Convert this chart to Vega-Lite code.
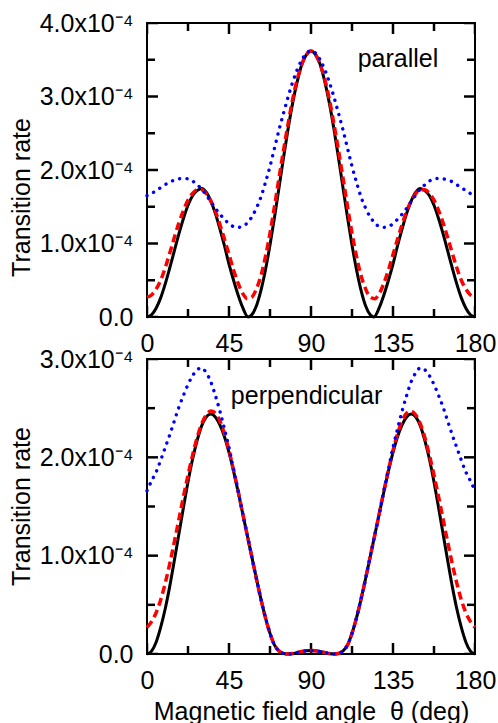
{
  "$schema": "https://vega.github.io/schema/vega-lite/v6.json",
  "padding": {"left": 8, "top": 10, "right": 0, "bottom": 0},
  "background": "white",
  "bounds": "flush",
  "spacing": 42,
  "config": {
    "view": {"stroke": "black", "strokeWidth": 2},
    "font": "Liberation Sans",
    "axis": {
      "grid": false, "domain": false, "ticks": false,
      "labelFont": "Liberation Sans", "labelFontSize": 25, "labelColor": "black",
      "titleFont": "Liberation Sans", "titleFontSize": 25, "titleFontWeight": "normal", "titleColor": "black",
      "labelFlush": false, "labelOverlap": false
    }
  },
  "datasets": {
    "par_k": [
      {"theta":0,"rate":0},{"theta":2.5,"rate":0.03},{"theta":5,"rate":0.12},{"theta":7.5,"rate":0.26},{"theta":10,"rate":0.45},{"theta":12.5,"rate":0.67},{"theta":15,"rate":0.90},{"theta":17.5,"rate":1.13},{"theta":20,"rate":1.34},{"theta":22.5,"rate":1.52},{"theta":25,"rate":1.65},{"theta":27.5,"rate":1.72},{"theta":30,"rate":1.75},{"theta":32.5,"rate":1.70},{"theta":35,"rate":1.58},{"theta":37.5,"rate":1.41},{"theta":40,"rate":1.20},{"theta":42.5,"rate":0.97},{"theta":45,"rate":0.72},{"theta":47.5,"rate":0.50},{"theta":50,"rate":0.30},{"theta":52.5,"rate":0.13},{"theta":55.5,"rate":0},{"theta":57.5,"rate":0.03},{"theta":60,"rate":0.15},{"theta":62.5,"rate":0.36},{"theta":65,"rate":0.64},{"theta":67.5,"rate":0.98},{"theta":70,"rate":1.36},{"theta":72.5,"rate":1.77},{"theta":75,"rate":2.18},{"theta":77.5,"rate":2.57},{"theta":80,"rate":2.92},{"theta":82.5,"rate":3.21},{"theta":85,"rate":3.44},{"theta":87.5,"rate":3.57},{"theta":90,"rate":3.62},
      {"theta":92.5,"rate":3.57},{"theta":95,"rate":3.44},{"theta":97.5,"rate":3.21},{"theta":100,"rate":2.92},{"theta":102.5,"rate":2.57},{"theta":105,"rate":2.18},{"theta":107.5,"rate":1.77},{"theta":110,"rate":1.36},{"theta":112.5,"rate":0.98},{"theta":115,"rate":0.64},{"theta":117.5,"rate":0.36},{"theta":120,"rate":0.15},{"theta":122.5,"rate":0.03},{"theta":124.5,"rate":0},{"theta":127.5,"rate":0.13},{"theta":130,"rate":0.30},{"theta":132.5,"rate":0.50},{"theta":135,"rate":0.72},{"theta":137.5,"rate":0.97},{"theta":140,"rate":1.20},{"theta":142.5,"rate":1.41},{"theta":145,"rate":1.58},{"theta":147.5,"rate":1.70},{"theta":150,"rate":1.75},{"theta":152.5,"rate":1.72},{"theta":155,"rate":1.65},{"theta":157.5,"rate":1.52},{"theta":160,"rate":1.34},{"theta":162.5,"rate":1.13},{"theta":165,"rate":0.90},{"theta":167.5,"rate":0.67},{"theta":170,"rate":0.45},{"theta":172.5,"rate":0.26},{"theta":175,"rate":0.12},{"theta":177.5,"rate":0.03},{"theta":180,"rate":0}
    ],
    "par_r": [
      {"theta":0,"rate":0.27},{"theta":2.5,"rate":0.30},{"theta":5,"rate":0.38},{"theta":7.5,"rate":0.50},{"theta":10,"rate":0.67},{"theta":12.5,"rate":0.87},{"theta":15,"rate":1.08},{"theta":17.5,"rate":1.28},{"theta":20,"rate":1.45},{"theta":22.5,"rate":1.59},{"theta":25,"rate":1.68},{"theta":27.5,"rate":1.73},{"theta":30,"rate":1.73},{"theta":32.5,"rate":1.68},{"theta":35,"rate":1.58},{"theta":37.5,"rate":1.44},{"theta":40,"rate":1.26},{"theta":42.5,"rate":1.06},{"theta":45,"rate":0.85},{"theta":47.5,"rate":0.64},{"theta":50,"rate":0.46},{"theta":52.5,"rate":0.32},{"theta":55,"rate":0.25},{"theta":57.5,"rate":0.27},{"theta":60,"rate":0.38},{"theta":62.5,"rate":0.56},{"theta":65,"rate":0.82},{"theta":67.5,"rate":1.14},{"theta":70,"rate":1.51},{"theta":72.5,"rate":1.90},{"theta":75,"rate":2.28},{"theta":77.5,"rate":2.64},{"theta":80,"rate":2.97},{"theta":82.5,"rate":3.24},{"theta":85,"rate":3.44},{"theta":87.5,"rate":3.57},{"theta":90,"rate":3.62},
      {"theta":92.5,"rate":3.57},{"theta":95,"rate":3.44},{"theta":97.5,"rate":3.24},{"theta":100,"rate":2.97},{"theta":102.5,"rate":2.64},{"theta":105,"rate":2.28},{"theta":107.5,"rate":1.90},{"theta":110,"rate":1.51},{"theta":112.5,"rate":1.14},{"theta":115,"rate":0.82},{"theta":117.5,"rate":0.56},{"theta":120,"rate":0.38},{"theta":122.5,"rate":0.27},{"theta":125,"rate":0.25},{"theta":127.5,"rate":0.32},{"theta":130,"rate":0.46},{"theta":132.5,"rate":0.64},{"theta":135,"rate":0.85},{"theta":137.5,"rate":1.06},{"theta":140,"rate":1.26},{"theta":142.5,"rate":1.44},{"theta":145,"rate":1.58},{"theta":147.5,"rate":1.68},{"theta":150,"rate":1.73},{"theta":152.5,"rate":1.73},{"theta":155,"rate":1.68},{"theta":157.5,"rate":1.59},{"theta":160,"rate":1.45},{"theta":162.5,"rate":1.28},{"theta":165,"rate":1.08},{"theta":167.5,"rate":0.87},{"theta":170,"rate":0.67},{"theta":172.5,"rate":0.50},{"theta":175,"rate":0.38},{"theta":177.5,"rate":0.30},{"theta":180,"rate":0.27}
    ],
    "par_b": [
      {"theta":0,"rate":1.65},{"theta":2.5,"rate":1.68},{"theta":5,"rate":1.72},{"theta":7.5,"rate":1.76},{"theta":10,"rate":1.80},{"theta":12.5,"rate":1.84},{"theta":15,"rate":1.86},{"theta":17.5,"rate":1.88},{"theta":20,"rate":1.885},{"theta":22.5,"rate":1.88},{"theta":25,"rate":1.85},{"theta":27.5,"rate":1.80},{"theta":30,"rate":1.74},{"theta":32.5,"rate":1.66},{"theta":35,"rate":1.57},{"theta":37.5,"rate":1.48},{"theta":40,"rate":1.40},{"theta":42.5,"rate":1.33},{"theta":45,"rate":1.27},{"theta":47.5,"rate":1.23},{"theta":50,"rate":1.22},{"theta":52.5,"rate":1.23},{"theta":55,"rate":1.28},{"theta":57.5,"rate":1.36},{"theta":60,"rate":1.48},{"theta":62.5,"rate":1.63},{"theta":65,"rate":1.83},{"theta":67.5,"rate":2.05},{"theta":70,"rate":2.30},{"theta":72.5,"rate":2.55},{"theta":75,"rate":2.78},{"theta":77.5,"rate":3.00},{"theta":80,"rate":3.20},{"theta":82.5,"rate":3.37},{"theta":85,"rate":3.50},{"theta":87.5,"rate":3.59},{"theta":90,"rate":3.62},
      {"theta":92.5,"rate":3.59},{"theta":95,"rate":3.50},{"theta":97.5,"rate":3.37},{"theta":100,"rate":3.20},{"theta":102.5,"rate":3.00},{"theta":105,"rate":2.78},{"theta":107.5,"rate":2.55},{"theta":110,"rate":2.30},{"theta":112.5,"rate":2.05},{"theta":115,"rate":1.83},{"theta":117.5,"rate":1.63},{"theta":120,"rate":1.48},{"theta":122.5,"rate":1.36},{"theta":125,"rate":1.28},{"theta":127.5,"rate":1.23},{"theta":130,"rate":1.22},{"theta":132.5,"rate":1.23},{"theta":135,"rate":1.27},{"theta":137.5,"rate":1.33},{"theta":140,"rate":1.40},{"theta":142.5,"rate":1.48},{"theta":145,"rate":1.57},{"theta":147.5,"rate":1.66},{"theta":150,"rate":1.74},{"theta":152.5,"rate":1.80},{"theta":155,"rate":1.85},{"theta":157.5,"rate":1.88},{"theta":160,"rate":1.885},{"theta":162.5,"rate":1.88},{"theta":165,"rate":1.86},{"theta":167.5,"rate":1.84},{"theta":170,"rate":1.80},{"theta":172.5,"rate":1.76},{"theta":175,"rate":1.72},{"theta":177.5,"rate":1.68},{"theta":180,"rate":1.65}
    ],
    "perp_k": [
      {"theta":0,"rate":0},{"theta":2.5,"rate":0.03},{"theta":5,"rate":0.12},{"theta":7.5,"rate":0.27},{"theta":10,"rate":0.46},{"theta":12.5,"rate":0.69},{"theta":15,"rate":0.95},{"theta":17.5,"rate":1.22},{"theta":20,"rate":1.49},{"theta":22.5,"rate":1.75},{"theta":25,"rate":1.98},{"theta":27.5,"rate":2.17},{"theta":30,"rate":2.32},{"theta":32.5,"rate":2.41},{"theta":35,"rate":2.44},{"theta":37.5,"rate":2.41},{"theta":40,"rate":2.33},{"theta":42.5,"rate":2.21},{"theta":45,"rate":2.05},{"theta":47.5,"rate":1.86},{"theta":50,"rate":1.65},{"theta":52.5,"rate":1.43},{"theta":55,"rate":1.21},{"theta":57.5,"rate":0.99},{"theta":60,"rate":0.77},{"theta":62.5,"rate":0.56},{"theta":65,"rate":0.37},{"theta":67.5,"rate":0.21},{"theta":70,"rate":0.09},{"theta":72.5,"rate":0.03},{"theta":75,"rate":0.005},{"theta":77.5,"rate":0},{"theta":80,"rate":0.005},{"theta":82.5,"rate":0.015},{"theta":85,"rate":0.025},{"theta":87.5,"rate":0.032},{"theta":90,"rate":0.035},
      {"theta":92.5,"rate":0.032},{"theta":95,"rate":0.025},{"theta":97.5,"rate":0.015},{"theta":100,"rate":0.005},{"theta":102.5,"rate":0},{"theta":105,"rate":0.005},{"theta":107.5,"rate":0.03},{"theta":110,"rate":0.09},{"theta":112.5,"rate":0.21},{"theta":115,"rate":0.37},{"theta":117.5,"rate":0.56},{"theta":120,"rate":0.77},{"theta":122.5,"rate":0.99},{"theta":125,"rate":1.21},{"theta":127.5,"rate":1.43},{"theta":130,"rate":1.65},{"theta":132.5,"rate":1.86},{"theta":135,"rate":2.05},{"theta":137.5,"rate":2.21},{"theta":140,"rate":2.33},{"theta":142.5,"rate":2.41},{"theta":145,"rate":2.44},{"theta":147.5,"rate":2.41},{"theta":150,"rate":2.32},{"theta":152.5,"rate":2.17},{"theta":155,"rate":1.98},{"theta":157.5,"rate":1.75},{"theta":160,"rate":1.49},{"theta":162.5,"rate":1.22},{"theta":165,"rate":0.95},{"theta":167.5,"rate":0.69},{"theta":170,"rate":0.46},{"theta":172.5,"rate":0.27},{"theta":175,"rate":0.12},{"theta":177.5,"rate":0.03},{"theta":180,"rate":0}
    ],
    "perp_r": [
      {"theta":0,"rate":0.27},{"theta":2.5,"rate":0.33},{"theta":5,"rate":0.42},{"theta":7.5,"rate":0.55},{"theta":10,"rate":0.72},{"theta":12.5,"rate":0.92},{"theta":15,"rate":1.14},{"theta":17.5,"rate":1.37},{"theta":20,"rate":1.60},{"theta":22.5,"rate":1.82},{"theta":25,"rate":2.02},{"theta":27.5,"rate":2.20},{"theta":30,"rate":2.34},{"theta":32.5,"rate":2.43},{"theta":35,"rate":2.47},{"theta":37.5,"rate":2.45},{"theta":40,"rate":2.37},{"theta":42.5,"rate":2.24},{"theta":45,"rate":2.07},{"theta":47.5,"rate":1.87},{"theta":50,"rate":1.66},{"theta":52.5,"rate":1.43},{"theta":55,"rate":1.21},{"theta":57.5,"rate":0.99},{"theta":60,"rate":0.77},{"theta":62.5,"rate":0.56},{"theta":65,"rate":0.37},{"theta":67.5,"rate":0.21},{"theta":70,"rate":0.09},{"theta":72.5,"rate":0.03},{"theta":75,"rate":0.005},{"theta":77.5,"rate":0},{"theta":80,"rate":0.005},{"theta":82.5,"rate":0.015},{"theta":85,"rate":0.025},{"theta":87.5,"rate":0.032},{"theta":90,"rate":0.035},
      {"theta":92.5,"rate":0.032},{"theta":95,"rate":0.025},{"theta":97.5,"rate":0.015},{"theta":100,"rate":0.005},{"theta":102.5,"rate":0},{"theta":105,"rate":0.005},{"theta":107.5,"rate":0.03},{"theta":110,"rate":0.09},{"theta":112.5,"rate":0.21},{"theta":115,"rate":0.37},{"theta":117.5,"rate":0.56},{"theta":120,"rate":0.77},{"theta":122.5,"rate":0.99},{"theta":125,"rate":1.21},{"theta":127.5,"rate":1.43},{"theta":130,"rate":1.66},{"theta":132.5,"rate":1.87},{"theta":135,"rate":2.07},{"theta":137.5,"rate":2.24},{"theta":140,"rate":2.37},{"theta":142.5,"rate":2.45},{"theta":145,"rate":2.47},{"theta":147.5,"rate":2.43},{"theta":150,"rate":2.34},{"theta":152.5,"rate":2.20},{"theta":155,"rate":2.02},{"theta":157.5,"rate":1.82},{"theta":160,"rate":1.60},{"theta":162.5,"rate":1.37},{"theta":165,"rate":1.14},{"theta":167.5,"rate":0.92},{"theta":170,"rate":0.72},{"theta":172.5,"rate":0.55},{"theta":175,"rate":0.42},{"theta":177.5,"rate":0.33},{"theta":180,"rate":0.27}
    ],
    "perp_b": [
      {"theta":0,"rate":1.66},{"theta":2.5,"rate":1.76},{"theta":5,"rate":1.85},{"theta":7.5,"rate":1.97},{"theta":10,"rate":2.10},{"theta":12.5,"rate":2.23},{"theta":15,"rate":2.37},{"theta":17.5,"rate":2.51},{"theta":20,"rate":2.63},{"theta":22.5,"rate":2.74},{"theta":25,"rate":2.83},{"theta":27.5,"rate":2.89},{"theta":30,"rate":2.91},{"theta":32.5,"rate":2.86},{"theta":35,"rate":2.77},{"theta":37.5,"rate":2.63},{"theta":40,"rate":2.47},{"theta":42.5,"rate":2.29},{"theta":45,"rate":2.10},{"theta":47.5,"rate":1.88},{"theta":50,"rate":1.66},{"theta":52.5,"rate":1.43},{"theta":55,"rate":1.21},{"theta":57.5,"rate":0.99},{"theta":60,"rate":0.77},{"theta":62.5,"rate":0.56},{"theta":65,"rate":0.37},{"theta":67.5,"rate":0.21},{"theta":70,"rate":0.09},{"theta":72.5,"rate":0.03},{"theta":75,"rate":0.005},{"theta":77.5,"rate":0},{"theta":80,"rate":0.005},{"theta":82.5,"rate":0.015},{"theta":85,"rate":0.025},{"theta":87.5,"rate":0.032},{"theta":90,"rate":0.035},
      {"theta":92.5,"rate":0.032},{"theta":95,"rate":0.025},{"theta":97.5,"rate":0.015},{"theta":100,"rate":0.005},{"theta":102.5,"rate":0},{"theta":105,"rate":0.005},{"theta":107.5,"rate":0.03},{"theta":110,"rate":0.09},{"theta":112.5,"rate":0.21},{"theta":115,"rate":0.37},{"theta":117.5,"rate":0.56},{"theta":120,"rate":0.77},{"theta":122.5,"rate":0.99},{"theta":125,"rate":1.21},{"theta":127.5,"rate":1.43},{"theta":130,"rate":1.66},{"theta":132.5,"rate":1.88},{"theta":135,"rate":2.10},{"theta":137.5,"rate":2.29},{"theta":140,"rate":2.47},{"theta":142.5,"rate":2.63},{"theta":145,"rate":2.77},{"theta":147.5,"rate":2.86},{"theta":150,"rate":2.91},{"theta":152.5,"rate":2.89},{"theta":155,"rate":2.83},{"theta":157.5,"rate":2.74},{"theta":160,"rate":2.63},{"theta":162.5,"rate":2.51},{"theta":165,"rate":2.37},{"theta":167.5,"rate":2.23},{"theta":170,"rate":2.10},{"theta":172.5,"rate":1.97},{"theta":175,"rate":1.85},{"theta":177.5,"rate":1.76},{"theta":180,"rate":1.66}
    ],
    "par_xmaj": [
      {"theta":0,"rate":0},{"theta":45,"rate":0},{"theta":90,"rate":0},{"theta":135,"rate":0},{"theta":180,"rate":0},
      {"theta":0,"rate":4},{"theta":45,"rate":4},{"theta":90,"rate":4},{"theta":135,"rate":4},{"theta":180,"rate":4}
    ],
    "par_xmin": [
      {"theta":22.5,"rate":0},{"theta":67.5,"rate":0},{"theta":112.5,"rate":0},{"theta":157.5,"rate":0},
      {"theta":22.5,"rate":4},{"theta":67.5,"rate":4},{"theta":112.5,"rate":4},{"theta":157.5,"rate":4}
    ],
    "par_ymaj": [
      {"theta":0,"rate":0},{"theta":0,"rate":1},{"theta":0,"rate":2},{"theta":0,"rate":3},{"theta":0,"rate":4},
      {"theta":180,"rate":0},{"theta":180,"rate":1},{"theta":180,"rate":2},{"theta":180,"rate":3},{"theta":180,"rate":4}
    ],
    "par_ymin": [
      {"theta":0,"rate":0.5},{"theta":0,"rate":1.5},{"theta":0,"rate":2.5},{"theta":0,"rate":3.5},
      {"theta":180,"rate":0.5},{"theta":180,"rate":1.5},{"theta":180,"rate":2.5},{"theta":180,"rate":3.5}
    ],
    "perp_xmaj": [
      {"theta":0,"rate":0},{"theta":45,"rate":0},{"theta":90,"rate":0},{"theta":135,"rate":0},{"theta":180,"rate":0},
      {"theta":0,"rate":3},{"theta":45,"rate":3},{"theta":90,"rate":3},{"theta":135,"rate":3},{"theta":180,"rate":3}
    ],
    "perp_xmin": [
      {"theta":22.5,"rate":0},{"theta":67.5,"rate":0},{"theta":112.5,"rate":0},{"theta":157.5,"rate":0},
      {"theta":22.5,"rate":3},{"theta":67.5,"rate":3},{"theta":112.5,"rate":3},{"theta":157.5,"rate":3}
    ],
    "perp_ymaj": [
      {"theta":0,"rate":0},{"theta":0,"rate":1},{"theta":0,"rate":2},{"theta":0,"rate":3},
      {"theta":180,"rate":0},{"theta":180,"rate":1},{"theta":180,"rate":2},{"theta":180,"rate":3}
    ],
    "perp_ymin": [
      {"theta":0,"rate":0.5},{"theta":0,"rate":1.5},{"theta":0,"rate":2.5},
      {"theta":180,"rate":0.5},{"theta":180,"rate":1.5},{"theta":180,"rate":2.5}
    ]
  },
  "vconcat": [
    {
      "width": 328, "height": 294,
      "encoding": {
        "x": {"field": "theta", "type": "quantitative", "scale": {"domain": [0, 180], "nice": false, "zero": false},
              "axis": {"orient": "bottom", "values": [0, 45, 90, 135, 180], "labelPadding": 14, "title": null}},
        "y": {"field": "rate", "type": "quantitative", "scale": {"domain": [0, 4], "nice": false},
              "axis": {"orient": "left", "values": [0, 1, 2, 3, 4], "labelPadding": 14,
                       "labelExpr": "datum.value == 0 ? '0.0' : format(datum.value, '.1f') + 'x10⁻⁴'",
                       "title": "Transition rate", "titleX": -118, "titleY": 174, "titleAngle": -90, "titleBaseline": "alphabetic"}}
      },
      "layer": [
        {"data": {"name": "par_xmaj"}, "mark": {"type": "tick", "orient": "vertical", "size": 22, "thickness": 2.5, "color": "black", "opacity": 1, "clip": true}},
        {"data": {"name": "par_xmin"}, "mark": {"type": "tick", "orient": "vertical", "size": 16, "thickness": 2.5, "color": "black", "opacity": 1, "clip": true}},
        {"data": {"name": "par_ymaj"}, "mark": {"type": "tick", "orient": "horizontal", "size": 22, "thickness": 2.5, "color": "black", "opacity": 1, "clip": true}},
        {"data": {"name": "par_ymin"}, "mark": {"type": "tick", "orient": "horizontal", "size": 16, "thickness": 2.5, "color": "black", "opacity": 1, "clip": true}},
        {"data": {"name": "par_k"}, "mark": {"type": "line", "color": "black", "strokeWidth": 3, "interpolate": "monotone"}},
        {"data": {"name": "par_r"}, "mark": {"type": "line", "color": "#ff0000", "strokeWidth": 3.5, "strokeDash": [8, 4.5], "interpolate": "monotone"}},
        {"data": {"name": "par_b"}, "mark": {"type": "line", "color": "#0000ff", "strokeWidth": 3.4, "strokeDash": [0.1, 7.3], "strokeCap": "round", "interpolate": "monotone"}},
        {
          "data": {"values": [{"label": "parallel", "theta": 115.6, "rate": 3.4}]},
          "mark": {"type": "text", "align": "left", "baseline": "alphabetic", "fontSize": 25, "font": "Liberation Sans", "color": "black"},
          "encoding": {"text": {"field": "label"}}
        }
      ]
    },
    {
      "width": 328, "height": 295,
      "encoding": {
        "x": {"field": "theta", "type": "quantitative", "scale": {"domain": [0, 180], "nice": false, "zero": false},
              "axis": {"orient": "bottom", "values": [0, 45, 90, 135, 180], "labelPadding": 14,
                       "title": "Magnetic field angle\u00a0 θ (deg)", "titleY": 45, "titleBaseline": "top"}},
        "y": {"field": "rate", "type": "quantitative", "scale": {"domain": [0, 3], "nice": false},
              "axis": {"orient": "left", "values": [0, 1, 2, 3], "labelPadding": 14,
                       "labelExpr": "datum.value == 0 ? '0.0' : format(datum.value, '.1f') + 'x10⁻⁴'",
                       "title": "Transition rate", "titleX": -118, "titleY": 147, "titleAngle": -90, "titleBaseline": "alphabetic"}}
      },
      "layer": [
        {"data": {"name": "perp_xmaj"}, "mark": {"type": "tick", "orient": "vertical", "size": 22, "thickness": 2.5, "color": "black", "opacity": 1, "clip": true}},
        {"data": {"name": "perp_xmin"}, "mark": {"type": "tick", "orient": "vertical", "size": 16, "thickness": 2.5, "color": "black", "opacity": 1, "clip": true}},
        {"data": {"name": "perp_ymaj"}, "mark": {"type": "tick", "orient": "horizontal", "size": 22, "thickness": 2.5, "color": "black", "opacity": 1, "clip": true}},
        {"data": {"name": "perp_ymin"}, "mark": {"type": "tick", "orient": "horizontal", "size": 16, "thickness": 2.5, "color": "black", "opacity": 1, "clip": true}},
        {"data": {"name": "perp_k"}, "mark": {"type": "line", "color": "black", "strokeWidth": 3, "interpolate": "monotone"}},
        {"data": {"name": "perp_r"}, "mark": {"type": "line", "color": "#ff0000", "strokeWidth": 3.5, "strokeDash": [8, 4.5], "interpolate": "monotone"}},
        {"data": {"name": "perp_b"}, "mark": {"type": "line", "color": "#0000ff", "strokeWidth": 3.4, "strokeDash": [0.1, 7.3], "strokeCap": "round", "interpolate": "monotone"}},
        {
          "data": {"values": [{"label": "perpendicular", "theta": 46, "rate": 2.54}]},
          "mark": {"type": "text", "align": "left", "baseline": "alphabetic", "fontSize": 25, "font": "Liberation Sans", "color": "black"},
          "encoding": {"text": {"field": "label"}}
        }
      ]
    }
  ]
}
